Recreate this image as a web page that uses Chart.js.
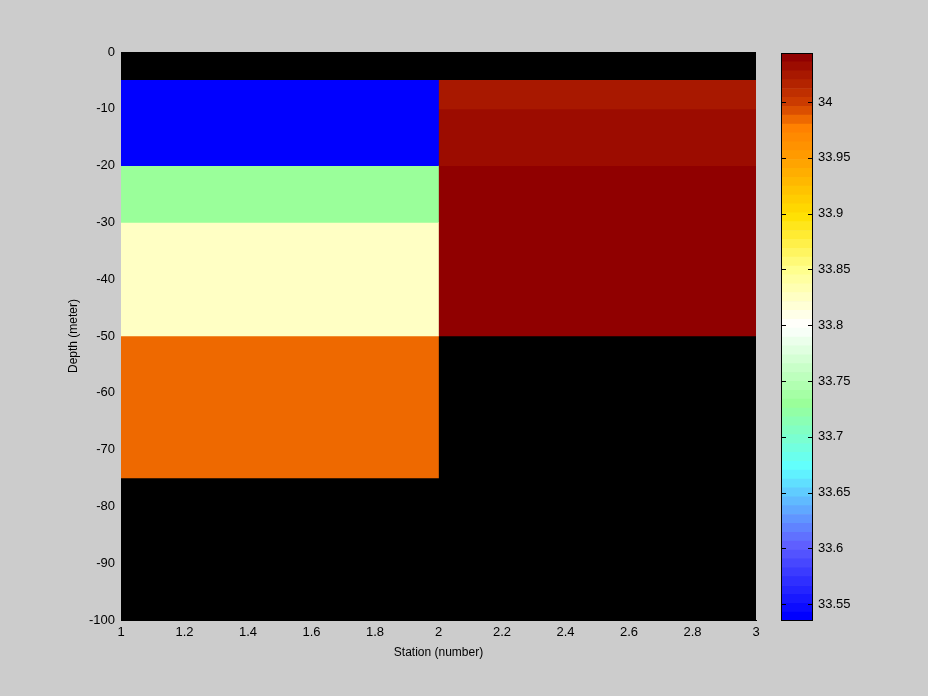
<!DOCTYPE html>
<html>
<head>
<meta charset="utf-8">
<script src="https://cdn.jsdelivr.net/npm/chart.js@4.4.1/dist/chart.umd.min.js"></script>
<style>
    html, body { margin: 0; padding: 0; background: #cccccc; }
    #wrap { position: relative; width: 928px; height: 696px; }
    #main { position: absolute; left: 0; top: 0; }
    #cbar { position: absolute; left: 760px; top: 0; }
</style>
</head>
<body>
<div id="wrap">
    <canvas id="main" width="928" height="696" style="width:928px;height:696px"></canvas>
    <canvas id="cbar" width="168" height="696" style="width:168px;height:696px"></canvas>
</div>
<script>
// data
const stationEdges = [1, 2, 3];
const depthEdges = [0, -5, -10, -20, -30, -50, -75, -100];
const salinityStation1 = [null, 33.536, 33.536, 33.728, 33.822, 33.982, null];
const salinityStation2 = [null, 34.022, 34.033, 34.044, 34.044, null, null];
const colorLimits = [33.535, 34.044];
const colorbarTicks = [33.55, 33.6, 33.65, 33.7, 33.75, 33.8, 33.85, 33.9, 33.95, 34];

// colormap (blue -> cyan -> green -> white -> yellow -> orange -> dark red)
const cmapStops = [0, 0.1285, 0.266, 0.38, 0.519, 0.618, 0.717, 0.815, 0.875, 0.914, 1];
const cmapColors = ["#0000ff", "#6060ff", "#60ffff", "#99ff99", "#ffffff", "#ffff90",
                    "#ffe000", "#ffa000", "#ff8000", "#d04000", "#900000"];
const nLevels = 64;

Chart.defaults.font.family = "'Liberation Sans', Arial, sans-serif";
Chart.defaults.font.size = 13;
Chart.defaults.color = "#000";

function hexRgb(h) {
    return [1, 3, 5].map(i => parseInt(h.substr(i, 2), 16));
}

function colorAt(f) {
    let i = 0;
    while (i < cmapStops.length - 2 && f > cmapStops[i + 1]) i++;
    const t = Math.min(1, Math.max(0, (f - cmapStops[i]) / (cmapStops[i + 1] - cmapStops[i])));
    const a = hexRgb(cmapColors[i]), b = hexRgb(cmapColors[i + 1]);
    const c = a.map((v, k) => Math.round(v + (b[k] - v) * t));
    return `rgb(${c[0]},${c[1]},${c[2]})`;
}

function levelColor(k) {
    return colorAt(k / (nLevels - 1));
}

function valueColor(v) {
    const [lo, hi] = colorLimits;
    let k = Math.floor((v - lo) / (hi - lo) * nLevels);
    k = Math.max(0, Math.min(nLevels - 1, k));
    return levelColor(k);
}

/* =========================
   HEATMAP CELLS
========================= */
const columns = [salinityStation1, salinityStation2];
const stationLabels = columns.map((c, i) => `${stationEdges[i]}-${stationEdges[i + 1]}`);
const cellSets = [];

columns.forEach((col, i) => {
    col.forEach((v, j) => {
        if (v === null) return;
        const data = stationLabels.map((l, n) => n === i ? [depthEdges[j + 1], depthEdges[j]] : null);
        cellSets.push({
            data,
            xAxisID: "xc",
            yAxisID: "y",
            backgroundColor: valueColor(v),
            borderWidth: 0,
            grouped: false,
            barPercentage: 1,
            categoryPercentage: 1
        });
    });
});

const blackArea = {
    id: "blackArea",
    beforeDatasetsDraw(chart) {
        const a = chart.chartArea;
        const ctx = chart.ctx;
        ctx.save();
        ctx.fillStyle = "#000";
        ctx.fillRect(a.left, a.top, a.right - a.left, a.bottom - a.top);
        ctx.restore();
    }
};

new Chart(document.getElementById("main"), {
    type: "bar",
    data: { labels: stationLabels, datasets: cellSets },
    plugins: [blackArea],
    options: {
        responsive: false,
        animation: false,
        layout: { padding: { left: 62, top: 52, right: 172, bottom: 35 } },
        plugins: { legend: { display: false }, tooltip: { enabled: false } },
        scales: {
            xc: {
                type: "category",
                display: false,
                offset: true
            },
            x: {
                type: "linear",
                position: "bottom",
                min: 1,
                max: 3,
                offset: false,
                grid: { display: false, drawTicks: false },
                border: { display: true, color: "#000" },
                ticks: {
                    stepSize: 0.2,
                    padding: 5,
                    maxRotation: 0,
                    callback: v => String(+v.toFixed(1))
                },
                title: { display: true, text: "Station (number)", font: { size: 12 }, padding: { top: 2, bottom: 1 } },
                afterFit: s => { s.height = 41; }
            },
            y: {
                type: "linear",
                min: -100,
                max: 0,
                offset: false,
                grid: { display: false, drawTicks: false },
                border: { display: true, color: "#000" },
                ticks: { stepSize: 10, padding: 6 },
                title: { display: true, text: "Depth (meter)", font: { size: 12 }, padding: { top: 4, bottom: 4 } },
                afterFit: s => { s.width = 59; }
            }
        }
    }
});

/* =========================
   COLORBAR
========================= */
const levelSets = [];
for (let k = 0; k < nLevels; k++) {
    const lo = colorLimits[0] + (colorLimits[1] - colorLimits[0]) * k / nLevels;
    const hi = colorLimits[0] + (colorLimits[1] - colorLimits[0]) * (k + 1) / nLevels;
    levelSets.push({
        data: [[lo, hi]],
        backgroundColor: levelColor(k),
        borderWidth: 0,
        grouped: false,
        barPercentage: 1,
        categoryPercentage: 1
    });
}

const cbarFrame = {
    id: "cbarFrame",
    afterDatasetsDraw(chart) {
        const a = chart.chartArea;
        const ys = chart.scales.y;
        const ctx = chart.ctx;
        ctx.save();
        ctx.strokeStyle = "#000";
        ctx.lineWidth = 1;
        colorbarTicks.forEach(v => {
            const py = Math.round(ys.getPixelForValue(v)) + 0.5;
            ctx.beginPath();
            ctx.moveTo(a.left, py);
            ctx.lineTo(a.left + 5, py);
            ctx.moveTo(a.right - 5, py);
            ctx.lineTo(a.right, py);
            ctx.stroke();
        });
        ctx.strokeRect(Math.round(a.left) + 0.5, Math.round(a.top) + 0.5,
            Math.round(a.right - a.left) - 1, Math.round(a.bottom - a.top) - 1);
        ctx.restore();
    }
};

new Chart(document.getElementById("cbar"), {
    type: "bar",
    data: { labels: ["salinity"], datasets: levelSets },
    plugins: [cbarFrame],
    options: {
        responsive: false,
        animation: false,
        layout: { padding: { left: 21, top: 53, right: 0, bottom: 75 } },
        plugins: { legend: { display: false }, tooltip: { enabled: false } },
        scales: {
            x: { type: "category", display: false, offset: true },
            y: {
                type: "linear",
                position: "right",
                min: colorLimits[0],
                max: colorLimits[1],
                grid: { display: false, drawTicks: false },
                border: { display: false },
                afterBuildTicks: s => { s.ticks = colorbarTicks.map(v => ({ value: v })); },
                ticks: { padding: 5, callback: v => String(+(+v).toFixed(2)) },
                afterFit: s => { s.width = 115; }
            }
        }
    }
});
</script>
</body>
</html>
